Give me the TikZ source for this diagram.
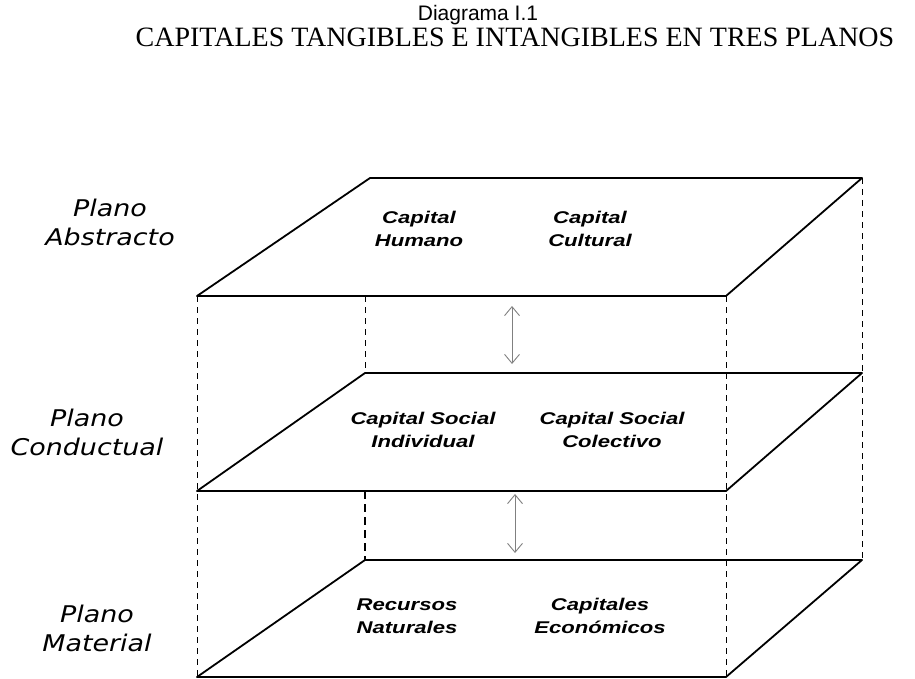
\documentclass[tikz,border=0pt]{standalone}
\usepackage{fontspec}
\usepackage{tikz}
\usetikzlibrary{arrows.meta}
\setmainfont{Liberation Serif}
\newfontfamily\titlefont{Liberation Sans}
\newfontfamily\planofont{DejaVu Sans}[FakeStretch=1.17]
\newfontfamily\capfont{Liberation Sans}[FakeStretch=1.3]

\begin{document}
\begin{tikzpicture}[x=1pt,y=-1pt]
    \tikzstyle{every node}+=[inner sep=0pt]
    \tikzstyle{plane}=[black, line width=1.8pt, line join=round]
    \tikzstyle{hidden}=[black, line width=0.9pt, dash pattern=on 6pt off 5pt]
    \tikzstyle{between}=[gray, line width=0.9pt, {Straight Barb[length=9pt,width=15pt]}-{Straight Barb[length=9pt,width=15pt]}]
    \tikzstyle{planolabel}=[align=center, font=\planofont\itshape\fontsize{23}{29}\selectfont]
    \tikzstyle{caplabel}=[align=center, font=\capfont\bfseries\itshape\fontsize{17}{23}\selectfont]
    \useasboundingbox (0,0) rectangle (915,679);
    % title
    \node [anchor=base, font=\titlefont\fontsize{21}{25}\selectfont] (diag) at (478,21) {Diagrama I.1};
    \node [anchor=base, font=\fontsize{28}{32}\selectfont] (title) at (515,47) {CAPITALES TANGIBLES E INTANGIBLES EN TRES PLANOS};
    % corners of the three planes
    \coordinate (a1) at (370,178);
    \coordinate (b1) at (862,178);
    \coordinate (c1) at (726,296);
    \coordinate (d1) at (197,296);
    \coordinate (a2) at (365,373);
    \coordinate (b2) at (862,373);
    \coordinate (c2) at (726,491);
    \coordinate (d2) at (197,491);
    \coordinate (a3) at (365,560);
    \coordinate (b3) at (862,560);
    \coordinate (c3) at (726,677);
    \coordinate (d3) at (197,677);
    \coordinate (h1) at (365,296);
    \coordinate (h2) at (365,491);
    % hidden edges
    \draw [hidden] (d1) -- (d3);
    \draw [hidden] (c1) -- (c3);
    \draw [hidden] (b1) -- (b3);
    \draw [hidden] (h1) -- (a2);
    \draw [hidden, line width=1.6pt, dash pattern=on 8pt off 5pt] (h2) -- (a3);
    % planes
    \draw [plane] (a1) -- (b1) -- (c1) -- (d1) -- cycle;
    \draw [plane] (a2) -- (b2) -- (c2) -- (d2) -- cycle;
    \draw [plane] (a3) -- (b3) -- (c3) -- (d3) -- cycle;
    % arrows between planes
    \coordinate (u1) at (512,306);
    \coordinate (l1) at (512,364);
    \coordinate (u2) at (515,494);
    \coordinate (l2) at (515,553);
    \draw [between] (u1) -- (l1);
    \draw [between] (u2) -- (l2);
    % plane names
    \node [planolabel] (abstracto) at (110,222) {Plano\\Abstracto};
    \node [planolabel] (conductual) at (87,432) {Plano\\Conductual};
    \node [planolabel] (material) at (97,628) {Plano\\Material};
    % capitals
    \node [caplabel] (humano) at (419,229) {Capital\\Humano};
    \node [caplabel] (cultural) at (590,229) {Capital\\Cultural};
    \node [caplabel] (individual) at (423,430) {Capital Social\\Individual};
    \node [caplabel] (colectivo) at (612,430) {Capital Social\\Colectivo};
    \node [caplabel] (recursos) at (407,616) {Recursos\\Naturales};
    \node [caplabel] (economicos) at (600,616) {Capitales\\Económicos};
\end{tikzpicture}
\end{document}
